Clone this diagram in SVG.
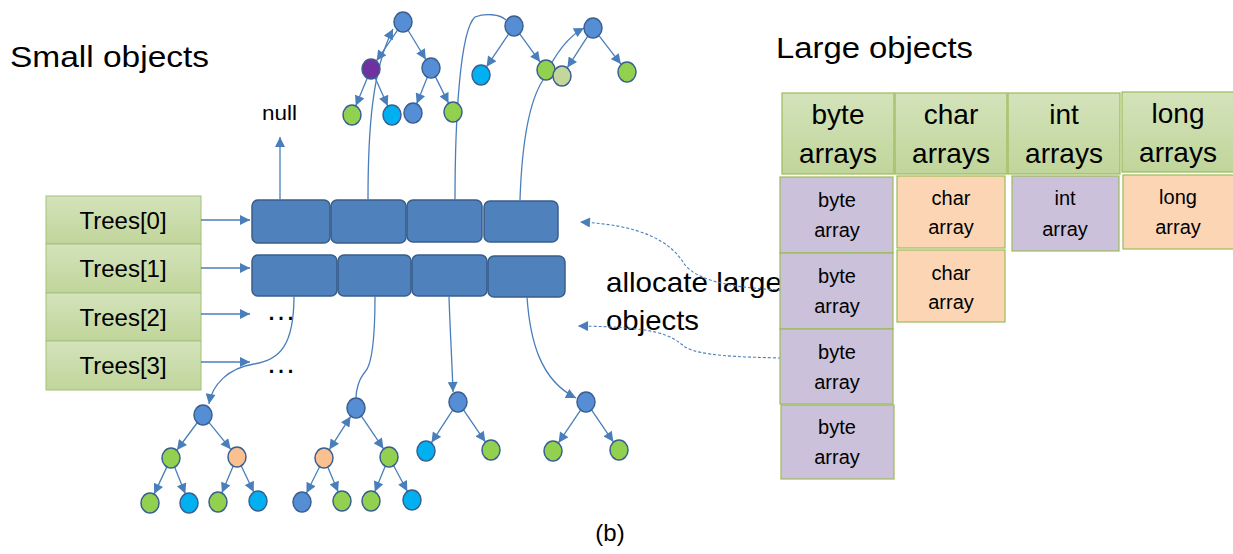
<svg xmlns="http://www.w3.org/2000/svg" width="1233" height="554" viewBox="0 0 1233 554">
<style>
text{font-family:"Liberation Sans",Arial,sans-serif;fill:#000}
.edge{fill:none;stroke:#4a7ebb;stroke-width:1.3}
.dash{fill:none;stroke:#4a7ebb;stroke-width:1.1;stroke-dasharray:3 2}
.n{stroke:#3a5f8f;stroke-width:1.5}
.nb{fill:#558ed5}.ng{fill:#92d050}.nc{fill:#00b0f0}.np{fill:#fac090}.nv{fill:#7030a0}.nl{fill:#c3d69b}
.cell{fill:#4f81bd;stroke:#385d8a;stroke-width:1.5}
.tree{fill:url(#gg);stroke:#a4c17a;stroke-width:1}
.hdr{fill:url(#gg);stroke:#9bbb59;stroke-width:1.2}
.pur{fill:#ccc1da;stroke:#9bbb59;stroke-width:1.2}
.pch{fill:#fcd5b5;stroke:#9bbb59;stroke-width:1.2}
.tt{font-size:24px;text-anchor:middle}
.ht{font-size:28px;text-anchor:middle}
.bt{font-size:20px;text-anchor:middle}
.dots{font-size:30px;text-anchor:middle}
</style>
<defs>
<linearGradient id="gg" x1="0" y1="0" x2="0" y2="1">
<stop offset="0" stop-color="#d4e3bb"/><stop offset="1" stop-color="#c0d59a"/>
</linearGradient>
<marker id="a" viewBox="0 0 10 10" refX="10" refY="5" markerWidth="11" markerHeight="10" markerUnits="userSpaceOnUse" orient="auto-start-reverse">
<path d="M0,0 L10,5 L0,10 z" fill="#4a7ebb"/>
</marker>
</defs>
<rect width="1233" height="554" fill="#fff"/>

<g id="titles">
<text x="10" y="67" font-size="30" textLength="199" lengthAdjust="spacingAndGlyphs">Small objects</text>
<text x="776" y="58" font-size="30" textLength="197" lengthAdjust="spacingAndGlyphs">Large objects</text>
<text x="262" y="120" font-size="20" textLength="35" lengthAdjust="spacingAndGlyphs">null</text>
<text x="606" y="292" font-size="28" textLength="176" lengthAdjust="spacingAndGlyphs">allocate large</text>
<text x="606" y="330" font-size="28" textLength="93" lengthAdjust="spacingAndGlyphs">objects</text>
<text x="610" y="541" font-size="24" text-anchor="middle">(b)</text>
<text class="dots" x="281" y="320">…</text>
<text class="dots" x="281" y="373">…</text>
</g>

<g id="trees-array">
<rect class="tree" x="46" y="196" width="155" height="48"/>
<rect class="tree" x="46" y="244" width="155" height="49"/>
<rect class="tree" x="46" y="293" width="155" height="48"/>
<rect class="tree" x="46" y="341" width="155" height="49"/>
<text class="tt" x="123" y="229">Trees[0]</text>
<text class="tt" x="123" y="277">Trees[1]</text>
<text class="tt" x="123" y="326">Trees[2]</text>
<text class="tt" x="123" y="374">Trees[3]</text>
</g>

<g id="row0">
<rect class="cell" x="252" y="200" width="78" height="43" rx="6"/>
<rect class="cell" x="331" y="200" width="75" height="43" rx="6"/>
<rect class="cell" x="407" y="200" width="75" height="42" rx="6"/>
<rect class="cell" x="484" y="201" width="74" height="41" rx="6"/>
</g>
<g id="row1">
<rect class="cell" x="252" y="255" width="85" height="41" rx="6"/>
<rect class="cell" x="338" y="255" width="73" height="41" rx="6"/>
<rect class="cell" x="412" y="255" width="75" height="41" rx="6"/>
<rect class="cell" x="488" y="256" width="77" height="41" rx="6"/>
</g>

<g id="connectors">
<path class="edge" d="M201,220 L250,220" marker-end="url(#a)"/>
<path class="edge" d="M201,268 L250,268" marker-end="url(#a)"/>
<path class="edge" d="M201,314 L250,314" marker-end="url(#a)"/>
<path class="edge" d="M201,362 L250,362" marker-end="url(#a)"/>
<path class="edge" d="M280,200 L280,137" marker-end="url(#a)"/>
<path class="edge" d="M368,200 C368,130 372,70 393,29" marker-end="url(#a)"/>
<path class="edge" d="M455,200 C455,120 460,30 475,17 C485,13 500,14 506,20"/>
<path class="edge" d="M520,200 C522,140 530,100 543,80 C552,60 565,38 584,28" marker-end="url(#a)"/>
<path class="edge" d="M294,296 C294,345 280,360 254,364 C228,368 212,385 209,404" marker-end="url(#a)"/>
<path class="edge" d="M375,296 C375,340 372,365 365,372 C358,380 356,392 356,398"/>
<path class="edge" d="M449,296 C450,330 452,360 453,392" marker-end="url(#a)"/>
<path class="edge" d="M527,297 C530,340 540,380 576,398" marker-end="url(#a)"/>
<path class="dash" d="M781,290 C740,288 700,283 685,265 C670,240 640,225 580,222" marker-end="url(#a)"/>
<path class="dash" d="M781,358 C740,357 700,356 685,347 C670,335 660,327 578,326" marker-end="url(#a)"/>
<!-- top trees -->
<path class="edge" d="M397.4,30.3 L376.6,60.7" marker-end="url(#a)"/>
<path class="edge" d="M408.2,30.5 L425.8,59.5" marker-end="url(#a)"/>
<path class="edge" d="M367.2,78.2 L355.8,105.8" marker-end="url(#a)"/>
<path class="edge" d="M375.2,78.1 L387.8,105.9" marker-end="url(#a)"/>
<path class="edge" d="M427.3,77.3 L416.7,103.7" marker-end="url(#a)"/>
<path class="edge" d="M435.5,76.9 L448.5,103.1" marker-end="url(#a)"/>
<path class="edge" d="M508.4,34.3 L486.6,66.7" marker-end="url(#a)"/>
<path class="edge" d="M519.9,34.1 L540.1,61.9" marker-end="url(#a)"/>
<path class="edge" d="M587.6,36.4 L567.4,67.6" marker-end="url(#a)"/>
<path class="edge" d="M599.1,35.9 L620.9,64.1" marker-end="url(#a)"/>
<!-- bottom trees -->
<path class="edge" d="M197,423 L177,450" marker-end="url(#a)"/>
<path class="edge" d="M209.3,422.8 L230.7,449.2" marker-end="url(#a)"/>
<path class="edge" d="M166.8,467.1 L154.2,493.9" marker-end="url(#a)"/>
<path class="edge" d="M174.7,467.3 L185.3,493.7" marker-end="url(#a)"/>
<path class="edge" d="M233.1,466.2 L221.9,492.8" marker-end="url(#a)"/>
<path class="edge" d="M241.3,466 L253.7,492" marker-end="url(#a)"/>
<path class="edge" d="M350.6,416.4 L329.4,449.6" marker-start="url(#a)" marker-end="url(#a)"/>
<path class="edge" d="M361.6,416.3 L383.4,448.7" marker-end="url(#a)"/>
<path class="edge" d="M319.5,467 L306.5,493" marker-end="url(#a)"/>
<path class="edge" d="M327.9,467.2 L338.1,491.8" marker-end="url(#a)"/>
<path class="edge" d="M385.2,466.3 L374.8,491.7" marker-end="url(#a)"/>
<path class="edge" d="M393.7,465.8 L407.3,491.2" marker-end="url(#a)"/>
<path class="edge" d="M452.5,410.4 L431.5,442.6" marker-end="url(#a)"/>
<path class="edge" d="M463.7,410.2 L485.3,441.8" marker-end="url(#a)"/>
<path class="edge" d="M580.4,410.3 L558.6,442.7" marker-end="url(#a)"/>
<path class="edge" d="M591.7,410.2 L613.3,441.8" marker-end="url(#a)"/>
</g>

<g id="top-trees">
<ellipse class="n nb" cx="403" cy="22" rx="9" ry="10"/>
<ellipse class="n nv" cx="371" cy="69" rx="9" ry="10"/>
<ellipse class="n nb" cx="431" cy="68" rx="9" ry="10"/>
<ellipse class="n ng" cx="352" cy="115" rx="9" ry="10"/>
<ellipse class="n nc" cx="392" cy="115" rx="9" ry="10"/>
<ellipse class="n nb" cx="413" cy="113" rx="9" ry="10"/>
<ellipse class="n ng" cx="453" cy="112" rx="9" ry="10"/>
<ellipse class="n nb" cx="514" cy="26" rx="9" ry="10"/>
<ellipse class="n nc" cx="481" cy="75" rx="9" ry="10"/>
<ellipse class="n ng" cx="546" cy="70" rx="9" ry="10"/>
<ellipse class="n nl" cx="562" cy="76" rx="9" ry="10"/>
<ellipse class="n nb" cx="593" cy="28" rx="9" ry="10"/>
<ellipse class="n ng" cx="627" cy="72" rx="9" ry="10"/>
</g>

<g id="bottom-trees">
<ellipse class="n nb" cx="203" cy="415" rx="9" ry="10"/>
<ellipse class="n ng" cx="171" cy="458" rx="9" ry="10"/>
<ellipse class="n np" cx="237" cy="457" rx="9" ry="10"/>
<ellipse class="n ng" cx="150" cy="503" rx="9" ry="10"/>
<ellipse class="n nc" cx="189" cy="503" rx="9" ry="10"/>
<ellipse class="n ng" cx="218" cy="502" rx="9" ry="10"/>
<ellipse class="n nc" cx="258" cy="501" rx="9" ry="10"/>
<ellipse class="n nb" cx="356" cy="408" rx="9" ry="10"/>
<ellipse class="n np" cx="324" cy="458" rx="9" ry="10"/>
<ellipse class="n ng" cx="389" cy="457" rx="9" ry="10"/>
<ellipse class="n nb" cx="302" cy="502" rx="9" ry="10"/>
<ellipse class="n ng" cx="342" cy="501" rx="9" ry="10"/>
<ellipse class="n ng" cx="371" cy="501" rx="9" ry="10"/>
<ellipse class="n nc" cx="412" cy="500" rx="9" ry="10"/>
<ellipse class="n nb" cx="458" cy="402" rx="9" ry="10"/>
<ellipse class="n nc" cx="426" cy="451" rx="9" ry="10"/>
<ellipse class="n ng" cx="491" cy="450" rx="9" ry="10"/>
<ellipse class="n nb" cx="586" cy="402" rx="9" ry="10"/>
<ellipse class="n ng" cx="553" cy="451" rx="9" ry="10"/>
<ellipse class="n ng" cx="619" cy="450" rx="9" ry="10"/>
</g>

<g id="large-headers">
<rect class="hdr" x="782" y="93" width="112" height="81"/>
<rect class="hdr" x="895" y="93" width="112" height="81"/>
<rect class="hdr" x="1008" y="93" width="112" height="81"/>
<rect class="hdr" x="1122" y="92" width="112" height="80"/>
<text class="ht" x="838" y="124">byte</text><text class="ht" x="838" y="163">arrays</text>
<text class="ht" x="951" y="124">char</text><text class="ht" x="951" y="163">arrays</text>
<text class="ht" x="1064" y="124">int</text><text class="ht" x="1064" y="163">arrays</text>
<text class="ht" x="1178" y="123">long</text><text class="ht" x="1178" y="162">arrays</text>
</g>

<g id="byte-column">
<rect class="pur" x="780" y="177" width="113" height="76"/>
<rect class="pur" x="780" y="253" width="113" height="76"/>
<rect class="pur" x="780" y="329" width="113" height="75"/>
<rect class="pur" x="781" y="405" width="113" height="74"/>
<text class="bt" x="837" y="207">byte</text><text class="bt" x="837" y="237">array</text>
<text class="bt" x="837" y="283">byte</text><text class="bt" x="837" y="313">array</text>
<text class="bt" x="837" y="359">byte</text><text class="bt" x="837" y="389">array</text>
<text class="bt" x="837" y="434">byte</text><text class="bt" x="837" y="464">array</text>
</g>
<g id="char-column">
<rect class="pch" x="897" y="176" width="108" height="72"/>
<rect class="pch" x="897" y="250" width="108" height="72"/>
<text class="bt" x="951" y="205">char</text><text class="bt" x="951" y="234">array</text>
<text class="bt" x="951" y="280">char</text><text class="bt" x="951" y="309">array</text>
</g>
<g id="int-column">
<rect class="pur" x="1012" y="176" width="107" height="75"/>
<text class="bt" x="1065" y="205">int</text><text class="bt" x="1065" y="236">array</text>
</g>
<g id="long-column">
<rect class="pch" x="1123" y="175" width="111" height="74"/>
<text class="bt" x="1178" y="204">long</text><text class="bt" x="1178" y="234">array</text>
</g>
</svg>
